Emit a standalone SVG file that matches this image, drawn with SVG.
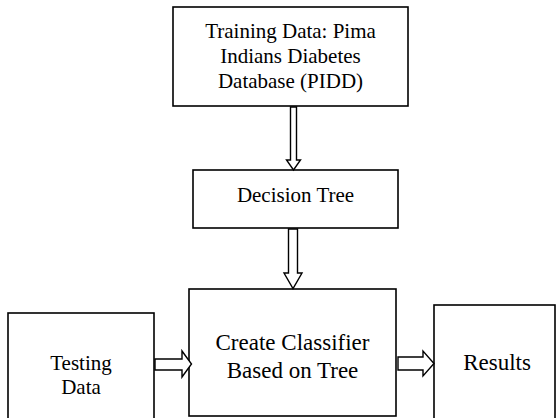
<svg xmlns="http://www.w3.org/2000/svg" width="556" height="418" viewBox="0 0 556 418">
<style>
.box{fill:#fff;stroke:#000;stroke-width:1.6}
.arr{fill:#fff;stroke:#000;stroke-width:1.4;stroke-linejoin:miter}
text{font-family:"Liberation Serif","Times New Roman",serif;fill:#000;text-anchor:middle}
.s{font-size:21px}
.l{font-size:23px}
</style>
<rect width="556" height="418" fill="#fff"/>
<g id="training">
<rect class="box" x="173" y="7" width="235" height="99"/>
<text class="s" x="290.5" y="38">Training Data: Pima</text>
<text class="s" x="290.5" y="63">Indians Diabetes</text>
<text class="s" x="290.5" y="88">Database (PIDD)</text>
</g>
<g id="decision">
<rect class="box" x="193" y="170" width="205" height="58"/>
<text class="s" x="295.5" y="202">Decision Tree</text>
</g>
<g id="classifier">
<rect class="box" x="189" y="289" width="207" height="127"/>
<text class="l" x="292.5" y="350">Create Classifier</text>
<text class="l" x="292.5" y="378">Based on Tree</text>
</g>
<g id="testing">
<rect class="box" x="8" y="313" width="146" height="110"/>
<text class="s" x="81" y="370">Testing</text>
<text class="s" x="81" y="394">Data</text>
</g>
<g id="results">
<rect class="box" x="434" y="305" width="121" height="118"/>
<text class="l" x="497" y="370">Results</text>
</g>
<g id="connectors">
<polygon class="arr" points="290.5,107 296.5,107 296.5,160 300.5,160 293.5,170 286.5,160 290.5,160"/>
<polygon class="arr" points="288.5,229 297.5,229 297.5,273 302,273 293,288.5 284,273 288.5,273"/>
<polygon class="arr" points="155,359 182,359 182,351 191.5,364 182,377 182,370 155,370"/>
<polygon class="arr" points="398,357 423,357 423,351 434,363.5 423,376 423,370 398,370"/>
</g>
</svg>
